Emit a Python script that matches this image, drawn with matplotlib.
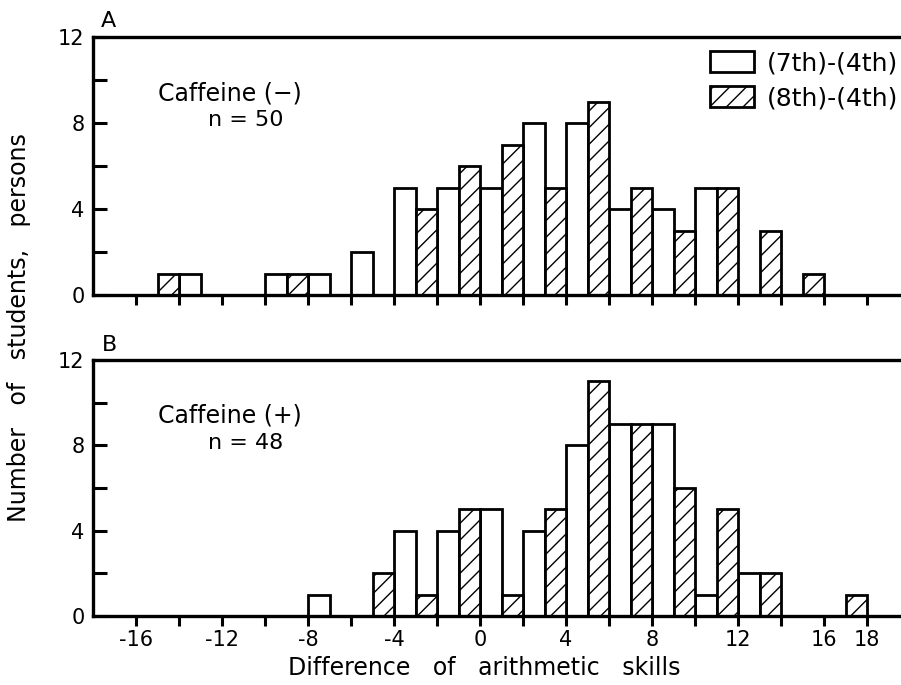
import numpy as np
import matplotlib
matplotlib.use("Agg")
import matplotlib.pyplot as plt
from matplotlib.patches import Patch

# left edge of each 1-unit slot and the number of students in it
a_open_x = [-14, -10, -8, -6, -4, -2, 0, 2, 4, 6, 8, 10]
a_open_n = [1, 1, 1, 2, 5, 5, 5, 8, 8, 4, 4, 5]
a_hatch_x = [-15, -9, -3, -1, 1, 3, 5, 7, 9, 11, 13, 15]
a_hatch_n = [1, 1, 4, 6, 7, 5, 9, 5, 3, 5, 3, 1]

b_open_x = [-8, -4, -2, 0, 2, 4, 6, 8, 10, 12]
b_open_n = [1, 4, 4, 5, 4, 8, 9, 9, 1, 2]
b_hatch_x = [-5, -3, -1, 1, 3, 5, 7, 9, 11, 13, 17]
b_hatch_n = [2, 1, 5, 1, 5, 11, 9, 6, 5, 2, 1]

xtick_labels = [-16, -12, -8, -4, 0, 4, 8, 12, 16, 18]
group_names = ["Caffeine (\u2212)", "Caffeine (+)"]
group_n = ["n = 50", "n = 48"]

plt.rcParams['font.family'] = ['DejaVu Sans']
plt.rcParams['hatch.linewidth'] = 1.0

fig = plt.figure(figsize=(9.01, 6.85), dpi=100)
axA = fig.add_axes([93/901, 1-295/685, 808/901, 258/685])
axB = fig.add_axes([93/901, 1-616/685, 808/901, 256/685])

lw = 2.0
panels = [(axA, a_open_x, a_open_n, a_hatch_x, a_hatch_n),
          (axB, b_open_x, b_open_n, b_hatch_x, b_hatch_n)]
for i, (ax, ox, on, hx, hn) in enumerate(panels):
    ax.bar(ox, on, width=1, align='edge', facecolor='white', edgecolor='black', linewidth=lw)
    ax.bar(hx, hn, width=1, align='edge', facecolor='white', edgecolor='black', linewidth=lw,
           hatch='//')
    ax.set_xlim(-18, 19.58)
    ax.set_ylim(0, 12)
    ax.spines['right'].set_visible(False)
    for s in ['left', 'bottom', 'top']:
        ax.spines[s].set_linewidth(2.4)
    ax.set_xticks(np.arange(-16, 19, 2))
    ax.set_yticks(np.arange(0, 13, 2))
    ax.set_yticklabels(['0', '', '4', '', '8', '', '12'])
    ax.tick_params(axis='y', direction='in', length=10, width=2.2, labelsize=15, pad=6)
    ax.tick_params(axis='x', direction='out', length=7, width=2.2, labelsize=15, pad=3)
    ax.text(-15.0, 9.95, group_names[i], fontsize=17, ha='left', va='top')
    ax.text(-12.65, 8.6, group_n[i], fontsize=16, ha='left', va='top')

axA.set_xticklabels([])
axB.set_xticklabels([str(v) if v in xtick_labels else '' for v in np.arange(-16, 19, 2)],
                    family=['Liberation Sans Narrow', 'DejaVu Sans'], fontsize=15)

fig.text(108/901, 1-21/685, 'A', fontsize=16, ha='center', va='center')
fig.text(110/901, 1-345/685, 'B', fontsize=16, ha='center', va='center')
fig.text(19/901, 1-328/685, 'Number   of   students,   persons', rotation=90,
         fontsize=17, ha='center', va='center')
fig.text(484/901, 1-668/685, 'Difference   of   arithmetic   skills', fontsize=17,
         ha='center', va='center')

handles = [Patch(facecolor='white', edgecolor='black', linewidth=lw),
           Patch(facecolor='white', edgecolor='black', linewidth=lw, hatch='//')]
axA.legend(handles, ['(7th)-(4th)', '(8th)-(4th)'], loc='upper right',
           bbox_to_anchor=(0.996, 0.945), frameon=False, fontsize=18,
           handlelength=1.75, handleheight=0.9, handletextpad=0.5,
           borderpad=0, borderaxespad=0, labelspacing=0.45)

fig.savefig('out.png', dpi=100)
